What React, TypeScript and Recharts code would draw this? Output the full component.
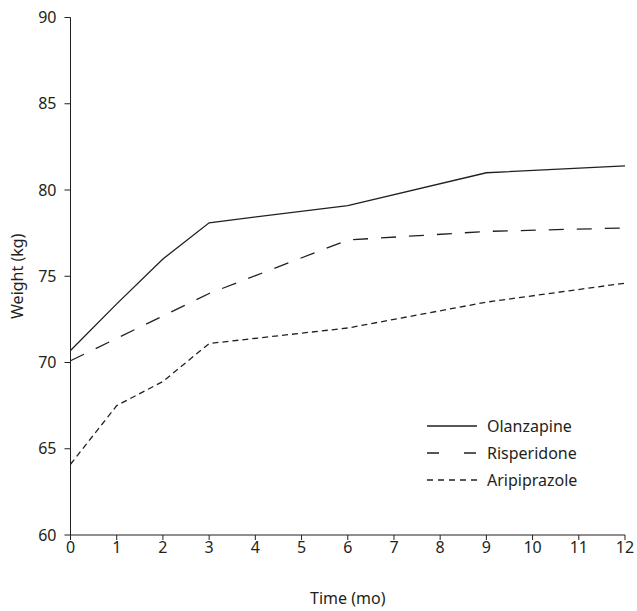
import React from 'react';
import { LineChart, Line, XAxis, YAxis } from 'recharts';

const months = [0, 1, 2, 3, 6, 9, 12];
const olanzapine = [70.7, 73.4, 76.0, 78.1, 79.1, 81.0, 81.4];
const risperidone = [70.1, 71.4, 72.7, 74.0, 77.1, 77.6, 77.8];
const aripiprazole = [64.1, 67.5, 68.9, 71.1, 72.0, 73.5, 74.6];

const xTicks = [0, 1, 2, 3, 4, 5, 6, 7, 8, 9, 10, 11, 12];
const yTicks = [60, 65, 70, 75, 80, 85, 90];

const INK = '#231f20';
const FONT = '"Noto Sans", sans-serif';
const FS = 16;

const series = [
  { key: 'olanzapine', name: 'Olanzapine', dash: undefined as string | undefined, keyDash: undefined as string | undefined },
  { key: 'risperidone', name: 'Risperidone', dash: '15 13', keyDash: '12 25' },
  { key: 'aripiprazole', name: 'Aripiprazole', dash: '6 4', keyDash: '6 5' },
];

const data = months.map((m, i) => ({
  month: m,
  olanzapine: olanzapine[i],
  risperidone: risperidone[i],
  aripiprazole: aripiprazole[i],
}));

// legend sits inside the plot, bottom right; drawn as a plain overlay so it takes no room from the axes
const LegendBox = () => (
  <div style={{ position: 'absolute', left: 427, top: 413, fontFamily: FONT, fontSize: FS, color: INK }}>
    {series.map((s) => (
      <div key={s.key} style={{ display: 'flex', alignItems: 'center', height: 26.7 }}>
        <svg width={50} height={4} style={{ marginRight: 10 }}>
          <line x1={0} y1={2} x2={50} y2={2} stroke={INK} strokeWidth={1.3} strokeDasharray={s.keyDash} />
        </svg>
        <span>{s.name}</span>
      </div>
    ))}
  </div>
);

export default function App() {
  return (
    <div style={{ position: 'absolute', left: 0, top: 0, width: 637, height: 611, background: '#fff' }}>
      <LineChart
        width={637}
        height={611}
        data={data}
        margin={{ top: 17.5, right: 12, bottom: 0, left: 0 }}
      >
        <XAxis
          dataKey="month"
          type="number"
          domain={[0, 12]}
          ticks={xTicks}
          interval={0}
          height={76}
          stroke={INK}
          tickSize={5}
          tickLine={{ stroke: INK }}
          tick={{ fill: INK, fontSize: FS, fontFamily: FONT }}
          label={{ value: 'Time (mo)', position: 'insideBottom', offset: 7, fill: INK, fontSize: FS, fontFamily: FONT }}
        />
        <YAxis
          type="number"
          domain={[60, 90]}
          ticks={yTicks}
          interval={0}
          width={70.5}
          stroke={INK}
          tickSize={6}
          tickMargin={8}
          tick={{ fill: INK, fontSize: FS, fontFamily: FONT }}
          label={{ value: 'Weight (kg)', angle: -90, position: 'insideLeft', offset: 17, fill: INK, fontSize: FS, fontFamily: FONT, style: { textAnchor: 'middle' } }}
        />
        {series.map((s) => (
          <Line
            key={s.key}
            dataKey={s.key}
            name={s.name}
            type="linear"
            stroke={INK}
            strokeWidth={1.3}
            strokeDasharray={s.dash}
            dot={false}
            activeDot={false}
            isAnimationActive={false}
          />
        ))}
      </LineChart>
      <LegendBox />
    </div>
  );
}
